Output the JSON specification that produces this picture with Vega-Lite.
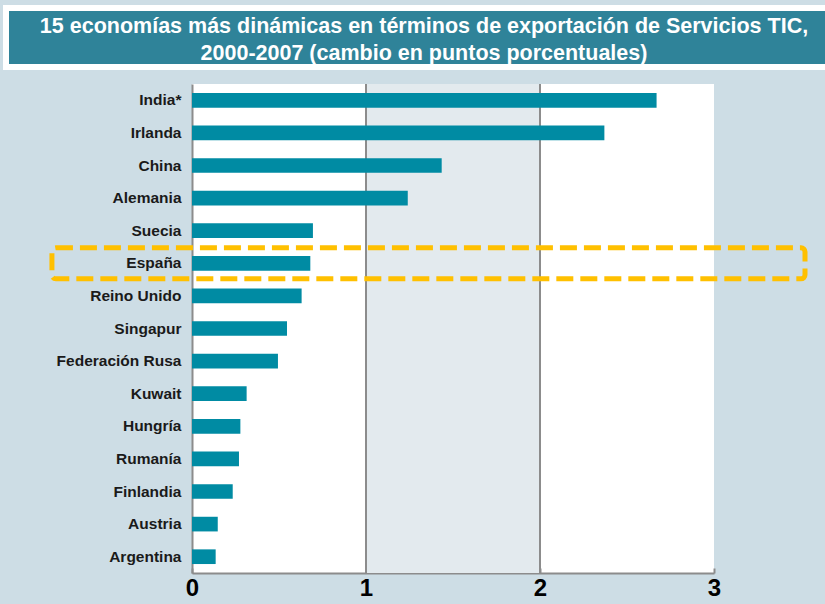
{
  "$schema": "https://vega.github.io/schema/vega-lite/v6.json",
  "background": "#cddde5",
  "padding": {"left": 2, "top": 5, "right": 0, "bottom": 0},
  "spacing": 13,
  "config": {
    "view": {"stroke": null},
    "font": "Liberation Sans",
    "axisX": {
      "grid": false, "domain": true, "domainColor": "#8c8c8c", "domainWidth": 2,
      "ticks": true, "tickSize": -5, "tickColor": "#8c8c8c", "tickWidth": 2,
      "labelPadding": 8, "labelFontSize": 24, "labelFontWeight": "bold", "labelColor": "black",
      "labelFont": "Liberation Sans", "labelFlush": false, "minExtent": 31, "maxExtent": 31
    },
    "axisY": {
      "grid": false, "domain": true, "domainColor": "#8c8c8c", "domainWidth": 2,
      "ticks": true, "tickSize": -5, "tickColor": "#8c8c8c", "tickWidth": 2,
      "tickOffset": -16.3,
      "labelPadding": 16, "labelFontSize": 15.5, "labelFontWeight": "bold", "labelColor": "#1a1a1a",
      "labelFont": "Liberation Sans", "minExtent": 185, "maxExtent": 185
    }
  },
  "vconcat": [
    {
      "width": 522,
      "height": 59,
      "data": {"values": [{"from": -1.069, "to": 3.75, "title": "15 economías más dinámicas en términos de exportación de Servicios TIC,\n2000-2007 (cambio en puntos porcentuales)"}]},
      "layer": [
        {
          "mark": {"type": "rect", "color": "#2f8399", "stroke": "white", "strokeWidth": 6, "clip": false},
          "encoding": {
            "x": {"field": "from", "type": "quantitative", "scale": {"domain": [0, 3], "nice": false, "zero": false}, "axis": null},
            "x2": {"field": "to"}
          }
        },
        {
          "mark": {"type": "text", "color": "white", "font": "Liberation Sans", "fontWeight": "bold", "fontSize": 21.5, "lineBreak": "\n", "lineHeight": 27, "align": "center", "baseline": "middle", "dx": -29, "dy": -11},
          "encoding": {"text": {"field": "title"}}
        }
      ]
    },
    {
      "width": 522,
      "height": 489,
      "view": {"fill": "white", "stroke": null},
      "data": {"values": [
        {"country": "India*", "value": 2.67},
        {"country": "Irlanda", "value": 2.37},
        {"country": "China", "value": 1.435},
        {"country": "Alemania", "value": 1.24},
        {"country": "Suecia", "value": 0.695},
        {"country": "España", "value": 0.68},
        {"country": "Reino Unido", "value": 0.63},
        {"country": "Singapur", "value": 0.546},
        {"country": "Federación Rusa", "value": 0.494},
        {"country": "Kuwait", "value": 0.314},
        {"country": "Hungría", "value": 0.278},
        {"country": "Rumanía", "value": 0.27},
        {"country": "Finlandia", "value": 0.234},
        {"country": "Austria", "value": 0.148},
        {"country": "Argentina", "value": 0.136}
      ]},
      "layer": [
        {
          "data": {"values": [{"start": 1, "end": 2}]},
          "mark": {"type": "rect", "color": "#e3eaee"},
          "encoding": {
            "x": {"field": "start", "type": "quantitative", "scale": {"domain": [0, 3], "nice": false}, "axis": {"title": null, "values": [0, 1, 2, 3]}},
            "x2": {"field": "end"}
          }
        },
        {
          "data": {"values": [{"v": 1}, {"v": 2}]},
          "mark": {"type": "rule", "color": "#8c8c8c", "strokeWidth": 2},
          "encoding": {
            "x": {"field": "v", "type": "quantitative", "axis": {"title": null, "values": [0, 1, 2, 3]}}
          }
        },
        {
          "mark": {"type": "bar", "color": "#008ba3", "height": {"band": 0.45}},
          "encoding": {
            "y": {
              "field": "country", "type": "nominal", "sort": null,
              "scale": {"paddingInner": 0, "paddingOuter": 0},
              "axis": {"title": null}
            },
            "x": {"field": "value", "type": "quantitative", "axis": {"title": null, "values": [0, 1, 2, 3]}}
          }
        },
        {
          "data": {"values": [{"country": "España", "from": -0.805, "to": 3.523}]},
          "mark": {"type": "bar", "filled": false, "stroke": "#ffc000", "strokeWidth": 5, "strokeDash": [17, 7], "cornerRadius": 4, "height": 31, "clip": false},
          "encoding": {
            "y": {"field": "country", "type": "nominal", "sort": null, "axis": {"title": null}},
            "x": {"field": "from", "type": "quantitative", "axis": {"title": null, "values": [0, 1, 2, 3]}},
            "x2": {"field": "to"}
          }
        }
      ]
    }
  ]
}
